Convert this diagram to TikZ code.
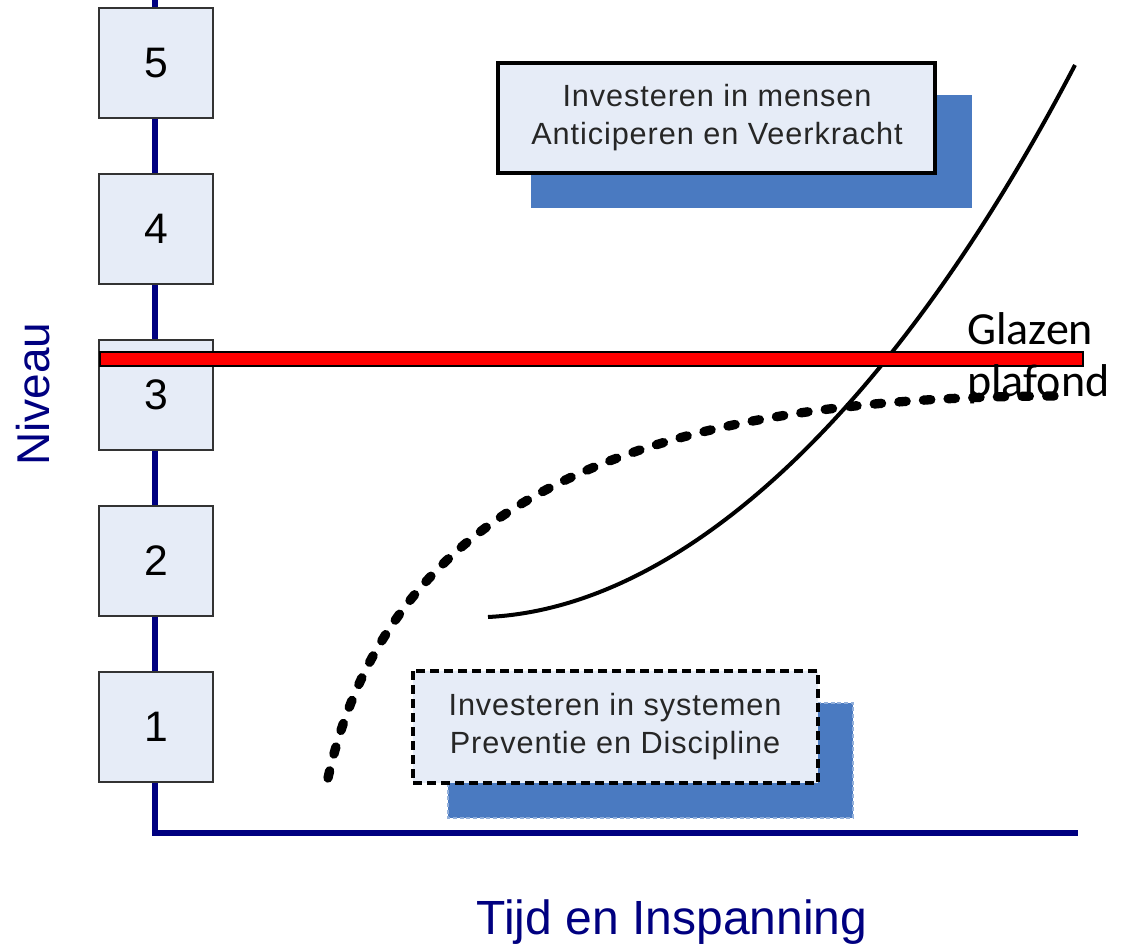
\documentclass[tikz,border=0pt]{standalone}
\usepackage{fontspec}
\setmainfont{Liberation Sans}
\newfontfamily\calfont{Carlito}
\newfontfamily\boxfont[LetterSpace=3]{Liberation Sans}
\definecolor{navyax}{HTML}{000080}
\definecolor{boxfill}{HTML}{E6ECF7}
\definecolor{shadowblue}{HTML}{4A7AC1}
\definecolor{boxedge}{HTML}{333333}
\begin{document}
\begin{tikzpicture}[x=0.75pt,y=-0.75pt,
  levelbox/.style={draw=boxedge,line width=1.5pt,fill=boxfill,minimum width=85.5pt,minimum height=82.5pt,inner sep=0pt,font=\fontsize{32}{36}\selectfont},
  textbox/.style={fill=boxfill,align=center,inner sep=0pt,text=black!85,font=\boxfont\fontsize{23}{28.5}\selectfont},
  axisline/.style={draw=navyax,line width=4.5pt},
]
\useasboundingbox (0,0) rectangle (1124,949);
% axes
\coordinate (ytop) at (155,0);
\coordinate (yorig) at (155,836);
\coordinate (xend) at (1078,833);
\coordinate (xorig) at (152,833);
\draw[axisline] (ytop) -- (yorig);
\draw[axisline] (xorig) -- (xend);
% level boxes
\node[levelbox] (l5) at (156,63) {5};
\node[levelbox] (l4) at (156,229) {4};
\node[levelbox] (l3) at (156,395) {3};
\node[levelbox] (l2) at (156,561) {2};
\node[levelbox] (l1) at (156,727) {1};
% top text box with shadow
\fill[shadowblue] (531,95) rectangle (972,208);
\draw[line width=3pt,fill=boxfill] (498,63) rectangle (935,173);
\node[textbox] (mensen) at (717,118) {Investeren in mensen\\Anticiperen en Veerkracht};
% bottom text box with shadow
\draw[shadowblue!60!white,fill=shadowblue,line width=1.2pt,dash pattern=on 3pt off 2pt] (448,703) rectangle (853,818);
\draw[line width=3pt,fill=boxfill,dash pattern=on 7pt off 3.5pt] (413,671) rectangle (818,783);
\node[textbox] (systemen) at (615,727) {Investeren in systemen\\Preventie en Discipline};
% curves
\coordinate (dstart) at (328,778);
\coordinate (dend) at (1060,396);
\coordinate (sstart) at (488,617);
\coordinate (send) at (1075,65);
\draw[line width=7pt,line cap=round,dash pattern=on 5.5pt off 13pt] (dstart) .. controls (390,500) and (640,396) .. (dend);
\draw[line width=3pt] (sstart) .. controls (690,607) and (900,400) .. (send);
% red glass ceiling
\draw[fill=red,draw=black,line width=1.2pt] (100,352) rectangle (1083,366);
\node[anchor=north west,align=left,inner sep=0pt,font=\calfont\fontsize{34.5}{39}\selectfont] (plafond) at (967,312) {Glazen\\plafond};
% axis labels
\node[rotate=90,text=navyax,font=\fontsize{34.5}{40}\selectfont] (niveau) at (33,394) {Niveau};
\node[text=navyax,font=\fontsize{36}{42}\selectfont] (tijd) at (672,922) {Tijd en Inspanning};
\end{tikzpicture}
\end{document}
